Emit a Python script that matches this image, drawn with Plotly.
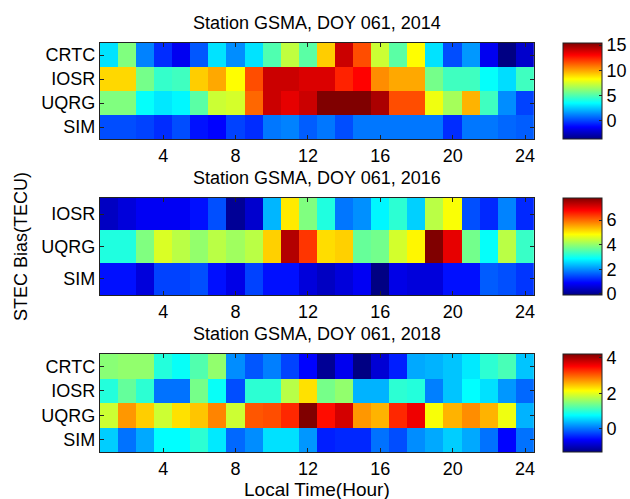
import plotly.graph_objects as go

# Hourly STEC bias (TECU) per product, local time hours 1..24
hours = list(range(1, 25))
x_ticks = [4, 8, 12, 16, 20, 24]

# 2014
crtc_2014 = [3.0, 5.9, 1.2, -0.4, -1.5, 0.4, 3.0, 1.4, 3.0, 5.0, 7.1, 5.2,
             9.2, 14.0, 11.6, 7.3, 5.2, 8.3, 3.0, 0.2, 1.6, -1.5, -3.6, -2.2]
iosr_2014 = [9.0, 9.0, 5.7, 4.5, 4.7, 9.2, 9.9, 8.3, 11.6, 14.0, 14.0, 13.7,
             13.7, 12.4, 13.0, 10.4, 9.9, 9.9, 5.7, 4.7, 4.7, 3.6, 2.9, 4.7]
uqrg_2014 = [5.9, 5.9, 3.6, 3.1, 3.4, 5.2, 7.3, 7.5, 11.1, 14.0, 13.5, 14.0,
             15.4, 15.4, 15.4, 14.6, 11.6, 11.6, 8.0, 6.6, 9.7, 4.7, 1.4, 0.0]
sim_2014 = [0.2, 0.2, 0.0, -0.4, 0.2, -0.9, -1.2, 0.0, -0.4, 1.0, 1.2, 0.5,
            1.0, 0.2, 1.0, 1.0, 1.0, 1.0, 1.0, -0.4, 1.0, 1.0, 0.7, 0.5]

# 2016
iosr_2016 = [0.4, 0.6, 0.8, 0.8, 0.8, 1.0, 1.5, 0.05, 0.5, 2.3, 5.0, 3.85,
             3.1, 1.8, 2.0, 2.8, 3.2, 2.5, 4.3, 4.8, 1.5, 1.2, 1.9, 1.2]
uqrg_2016 = [3.1, 3.1, 3.85, 4.55, 4.3, 4.0, 4.3, 4.1, 4.3, 5.2, 7.4, 6.4,
             5.1, 5.2, 3.65, 3.75, 4.5, 4.9, 7.8, 7.0, 3.75, 2.9, 4.3, 3.3]
sim_2016 = [1.0, 1.0, 0.6, 1.4, 1.4, 1.5, 1.0, 0.7, 1.4, 1.0, 1.0, 0.6,
            0.4, 0.6, 0.8, -0.1, 0.7, 0.6, 0.6, 1.0, 1.0, 1.6, 1.5, 1.3]

# 2018
crtc_2018 = [1.5, 1.55, 1.55, 0.95, 0.8, 1.2, 1.55, 0.15, -0.15, 0.07, -0.25, -0.6,
             -1.2, -0.7, -1.3, -0.85, -0.45, 0.3, 0.35, 0.45, 0.65, 1.0, 1.15, 0.45]
iosr_2018 = [0.95, 1.3, 1.0, 0.0, 0.0, 1.4, 0.8, -0.2, 1.0, 1.0, 1.75, 2.3,
             1.4, 1.55, 0.35, 0.35, 1.0, 0.95, 0.07, 0.45, 0.76, 0.6, 0.2, -0.05]
uqrg_2018 = [1.86, 2.7, 2.4, 1.86, 2.3, 2.45, 2.8, 1.86, 3.05, 3.1, 3.3, 4.2,
             3.45, 3.75, 2.7, 2.55, 3.3, 3.6, 2.1, 2.55, 2.75, 2.55, 2.05, 0.35]
sim_2018 = [0.5, 0.0, 0.3, 0.76, 0.76, 1.0, 0.65, -0.05, 0.15, 0.6, 0.6, 0.2,
            -0.45, -0.4, -0.4, 0.0, -0.2, 0.15, 0.3, 0.5, 0.3, 0.0, -0.6, 0.0]

panels = [
    ("Station GSMA, DOY 061, 2014",
     [("SIM", sim_2014), ("UQRG", uqrg_2014), ("IOSR", iosr_2014), ("CRTC", crtc_2014)],
     [0, 5, 10, 15]),
    ("Station GSMA, DOY 061, 2016",
     [("SIM", sim_2016), ("UQRG", uqrg_2016), ("IOSR", iosr_2016)],
     [0, 2, 4, 6]),
    ("Station GSMA, DOY 061, 2018",
     [("SIM", sim_2018), ("UQRG", uqrg_2018), ("IOSR", iosr_2018), ("CRTC", crtc_2018)],
     [0, 2, 4]),
]

jet = [[0.0, "rgb(0,0,131)"], [0.125, "rgb(0,0,255)"], [0.375, "rgb(0,255,255)"],
       [0.625, "rgb(255,255,0)"], [0.875, "rgb(255,0,0)"], [1.0, "rgb(128,0,0)"]]

W, H = 630, 499
FONT = "Liberation Sans, Arial, sans-serif"
x0, x1 = 100, 535
# vertical pixel extents of each panel (top, bottom)
rows_px = [(43, 139), (198, 295), (354, 452)]
cb_x0, cb_w = 563, 39

fig = go.Figure()
annotations = []
for i, (title, rows, cticks) in enumerate(panels):
    top, bot = rows_px[i]
    ydom = [1 - bot / H, 1 - top / H]
    xa = "x" if i == 0 else f"x{i + 1}"
    ya = "y" if i == 0 else f"y{i + 1}"
    fig.add_trace(go.Heatmap(
        x=hours, y=[r[0] for r in rows], z=[r[1] for r in rows],
        colorscale=jet, xaxis=xa, yaxis=ya,
        colorbar=dict(
            x=cb_x0 / W, xanchor="left", thickness=cb_w, thicknessmode="pixels",
            len=(bot - top) / H, lenmode="fraction", y=sum(ydom) / 2, yanchor="middle",
            outlinecolor="#222", outlinewidth=1, tickvals=cticks,
            ticks="inside", ticklen=3, tickcolor="#222",
            tickfont=dict(family=FONT, size=18, color="black"), xpad=0, ypad=0,
        ),
    ))
    axis_common = dict(showline=True, linecolor="#222", linewidth=1, mirror="ticks",
                       ticks="inside", ticklen=4, tickcolor="#222",
                       tickfont=dict(family=FONT, size=18, color="black"),
                       showgrid=False, zeroline=False)
    fig.update_layout(**{
        ("xaxis" if i == 0 else f"xaxis{i + 1}"): dict(
            domain=[x0 / W, x1 / W], range=[0.5, 24.5], tickvals=x_ticks,
            anchor=ya, **axis_common),
        ("yaxis" if i == 0 else f"yaxis{i + 1}"): dict(
            domain=ydom, anchor=xa, type="category", **axis_common),
    })
    annotations.append(dict(
        text=title, x=(x0 + x1) / 2 / W, y=1 - (top - 20) / H, xref="paper", yref="paper",
        xanchor="center", yanchor="middle", showarrow=False,
        font=dict(family=FONT, size=18, color="black")))

annotations.append(dict(
    text="Local Time(Hour)", x=(x0 + x1) / 2 / W, y=1 - 489 / H, xref="paper", yref="paper",
    xanchor="center", yanchor="middle", showarrow=False,
    font=dict(family=FONT, size=19, color="black")))
annotations.append(dict(
    text="STEC Bias(TECU)", x=21 / W, y=1 - 246 / H, xref="paper", yref="paper",
    xanchor="center", yanchor="middle", textangle=-90, showarrow=False,
    font=dict(family=FONT, size=18, color="black")))

fig.update_layout(
    width=W, height=H, margin=dict(l=0, r=0, t=0, b=0),
    paper_bgcolor="white", plot_bgcolor="white",
    annotations=annotations, showlegend=False,
)

fig.write_html("out.html")
